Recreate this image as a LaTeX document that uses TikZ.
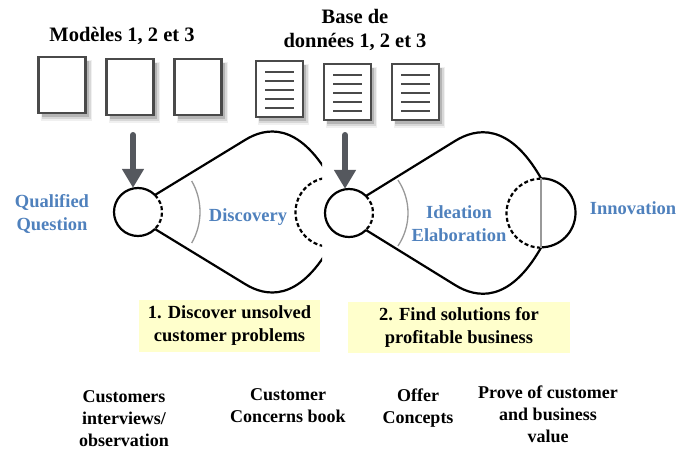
\documentclass[tikz,border=0pt]{standalone}
\usepackage{fontspec}
\setmainfont{Liberation Serif}
\usetikzlibrary{arrows.meta,shadows,calc}
\definecolor{boxgray}{HTML}{4A4A4A}
\definecolor{arrowgray}{HTML}{55585E}
\definecolor{lblue}{HTML}{4F81BD}
\definecolor{paley}{HTML}{FFFFCC}
\begin{document}
\begin{tikzpicture}[x=1pt,y=-1pt,
  basebox/.style={draw=boxgray, line width=2.6pt, fill=white, minimum width=47pt, minimum height=56pt, inner sep=0pt,
    general shadow={fill=black,opacity=.06,shadow xshift=4pt,shadow yshift=-5pt,shadow scale=1.09},
    general shadow={fill=black,opacity=.10,shadow xshift=4pt,shadow yshift=-5pt,shadow scale=1.04},
    general shadow={fill=black,opacity=.16,shadow xshift=3pt,shadow yshift=-4pt,shadow scale=1.0}},
  docbox/.style={basebox, path picture={
    \foreach \d in {-17,-8,1,10,19}
      \draw[boxgray, line width=2.2pt] ([shift={(-14.5,\d)}]path picture bounding box.center) -- ++(29,0);}},
  hdr/.style={font=\bfseries\fontsize{20.5}{24}\selectfont, align=center, inner sep=0pt},
  blab/.style={text=lblue, font=\bfseries\fontsize{18.5}{23}\selectfont, align=center, inner sep=0pt},
  ylab/.style={fill=paley, font=\bfseries\fontsize{18.5}{23}\selectfont, align=center, inner sep=0pt},
  bot/.style={font=\bfseries\fontsize{18}{22}\selectfont, align=center, inner sep=0pt},
  funnel/.style={line width=2.2pt, black},
  dashedline/.style={line width=2.2pt, dash pattern=on 4pt off 2.5pt},
  smallc/.style={circle, minimum size=48pt, inner sep=0pt},
  bigc/.style={circle, minimum size=69pt, inner sep=0pt},
  grayarc/.style={draw=gray!80, line width=1.3pt},
  bigarrow/.style={draw=arrowgray, line width=6pt, line cap=round, -{Triangle[width=21pt,length=19pt]}}
]
\useasboundingbox (0,0) rectangle (692,450);

% header texts
\node[hdr] (hm) at (122,36) {Modèles 1, 2 et 3};
\node[hdr] (hb) at (355,30) {Base de\\données 1, 2 et 3};

% boxes
\node[basebox] (m1) at (62,85) {};
\node[basebox] (m2) at (130,87) {};
\node[basebox] (m3) at (198,87) {};
\node[docbox] (d1) at (279.5,89) {};
\node[docbox] (d2) at (347.5,92) {};
\node[docbox] (d3) at (415.5,92) {};

% circles
\node[smallc] (c1) at (138,212) {};
\node[smallc] (c2) at (349,213) {};
\node[bigc] (b1) at (330,212) {};
\node[bigc] (b2) at (541,213) {};

% funnel 1 (clipped)
\begin{scope}
\clip (0,0) rectangle (322,450);
\draw[funnel] (c1.45) -- (245,140) .. controls (266,127) and (298,122) .. (b1.north);
\draw[funnel] (c1.-45) -- (245,284) .. controls (266,297) and (298,302) .. (b1.south);
\draw[dashedline] (b1.south) arc (90:270:34.5);
\end{scope}
\draw[funnel] (c1.center) ++(45:24) arc (45:315:24);
\draw[dashedline] (c1.center) ++(-45:24) arc (-45:45:24);
\draw[grayarc] (c1.center) ++(-30:62) arc (-30:30:62);

% funnel 2
\draw[funnel] (c2.45) -- (455,141) .. controls (476,128) and (509,122) .. (b2.north);
\draw[funnel] (c2.-45) -- (455,285) .. controls (476,298) and (509,304) .. (b2.south);
\draw[funnel] (c2.center) ++(45:24) arc (45:315:24);
\draw[dashedline] (c2.center) ++(-45:24) arc (-45:45:24);
\draw[grayarc] (c2.center) ++(-34:59) arc (-34:34:59);
\draw[dashedline] (b2.south) arc (90:270:34.5);
\draw[funnel] (b2.north) arc (-90:90:34.5);
\draw[grayarc] (b2.north) -- (b2.south);

% arrows
\coordinate (a1) at (133,135);
\coordinate (a2) at (345,135);
\draw[bigarrow] (a1) -- (a1 |- c1.north);
\draw[bigarrow] (a2) -- (a2 |- c2.north);

% blue labels
\node[blab] (lq) at (52,213.5) {Qualified\\Question};
\node[blab] (ld) at (248,217) {Discovery};
\node[blab] (li) at (459,223.5) {Ideation\\Elaboration};
\node[blab] (ln) at (633,208) {Innovation};

% yellow boxes
\node[ylab, minimum width=181pt, minimum height=52pt] (y1) at (229.5,326) {1. Discover unsolved\\customer problems};
\node[ylab, minimum width=222pt, minimum height=51pt] (y2) at (459,327.5) {2. Find solutions for\\profitable business};

% bottom texts
\node[bot] (t1) at (124,419) {Customers\\interviews/\\observation};
\node[bot] (t2) at (288,406) {Customer\\Concerns book};
\node[bot] (t3) at (418,408.5) {Offer\\Concepts};
\node[bot] (t4) at (548,414) {Prove of customer\\and business\\value};
\end{tikzpicture}
\end{document}
